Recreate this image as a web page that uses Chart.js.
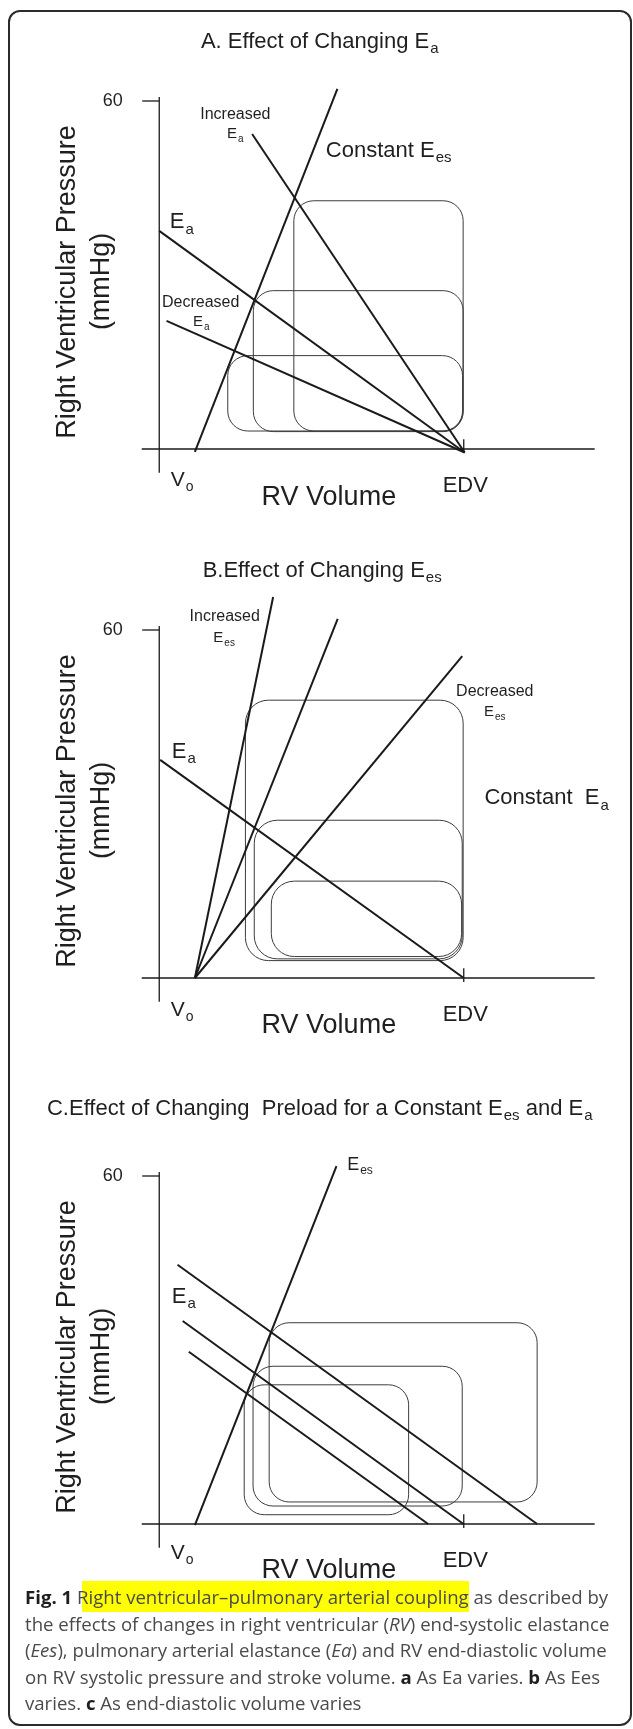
<!DOCTYPE html>
<html>
<head>
<meta charset="utf-8">
<title>RV–PA coupling</title>
<script src="https://cdn.jsdelivr.net/npm/chart.js@4.4.1/dist/chart.umd.min.js"></script>
<style>
  body { margin: 0; background: #fff; width: 633px; height: 1729px; position: relative; overflow: hidden; }
  .frame { position: absolute; left: 8px; top: 10px; width: 620px; height: 1712px;
           border: 2px solid #2b2b2b; border-radius: 12px; }
  canvas.panel { position: absolute; left: 7px; z-index: 1; }
  .caption { position: absolute; left: 25px; top: 1584px; z-index: 2;
             font-family: "Open Sans", sans-serif; font-size: 18.6px; line-height: 26.5px;
             color: #4a4a4a; white-space: nowrap; }
  .caption b { color: #1e1e1e; }
  .hl { background: #ffff00; padding: 3px 0; }
  .hl-edge { background: linear-gradient(to right, transparent 45%, #ffff00 45%); padding: 3px 0; }
</style>
</head>
<body>
<div class="frame"></div>
<canvas id="panel-a" class="panel" width="609" height="522" style="top:14px"></canvas>
<canvas id="panel-b" class="panel" width="609" height="522" style="top:543px"></canvas>
<canvas id="panel-c" class="panel" width="609" height="522" style="top:1089px"></canvas>
<div class="caption">
<b>Fig. 1</b> <span class="hl-edge">R</span><span class="hl">ight ventricular–pulmonary arterial coupling</span> as described by<br>
the effects of changes in right ventricular (<i>RV</i>) end-systolic elastance<br>
(<i>Ees</i>), pulmonary arterial elastance (<i>Ea</i>) and RV end-diastolic volume<br>
on RV systolic pressure and stroke volume. <b>a</b> As Ea varies. <b>b</b> As Ees<br>
varies. <b>c</b> As end-diastolic volume varies
</div>
<script>
// ─── Data (volume units: y-axis = 0, EDV = 100; pressure in mmHg) ─────────────

const X_MIN = -50, X_MAX = 150, Y_MIN = -15, Y_MAX = 75;

// shared axis furniture
const axisX = [[-5.75, 0], [143, 0]];
const axisY = [[0, -4.1], [0, 60.7]];
const tick60 = [[-5.6, 60], [0, 60]];
const tickEdv = [[100, -0.7], [100, 1.7]];

// A. changing Ea
const aEes = [[11.7, -0.5], [58.5, 62.1]];
const aEaIncreased = [[30.5, 54.3], [100.3, -0.6]];
const aEa = [[0, 37.6], [100.3, -0.6]];
const aEaDecreased = [[2.4, 22.1], [100.3, -0.6]];
const aLoops = [[44.2, 99.8, 3.1, 42.8], [30.9, 99.8, 3.0, 27.3], [22.5, 99.6, 3.1, 16.1]]; // left, right, bottom, top

// B. changing Ees
const bEesIncreased = [[11.7, 0], [37.4, 65.7]];
const bEes = [[11.7, 0], [58.6, 61.9]];
const bEesDecreased = [[11.7, 0], [99.5, 55.5]];
const bEa = [[0.3, 37.6], [100, 0]];
const bLoops = [[28.3, 99.8, 3.0, 47.9], [31.2, 99.5, 3.3, 27.2], [36.8, 99.3, 3.7, 16.7]];

// C. changing preload
const cEes = [[11.7, -0.2], [58.2, 61.7]];
const cEaHigh = [[6.0, 44.7], [124.1, 0]];
const cEaMid = [[7.7, 35.0], [99.9, 0]];
const cEaLow = [[9.7, 29.7], [88.3, 0]];
const cLoops = [[36.1, 124.1, 3.8, 34.7], [30.8, 99.5, 3.1, 27.2], [27.9, 81.9, 1.6, 24.0]];

// text placed in data coordinates; _{..} marks a subscript
const commonLabels = [
  { t: "60", x: -15.3, y: 60.2, size: 18 },
  { t: "EDV", x: 100.5, y: -6.1, size: 22 },
  { t: "Right Ventricular Pressure", x: -31.0, y: 28.8, size: 27, rot: true },
  { t: "(mmHg)", x: -19.7, y: 28.9, size: 27, rot: true },
];
const aLabels = [
  { t: "A. Effect of Changing E_{a}", x: 52.7, y: 70.5, size: 22 },
  { t: "Increased", x: 25, y: 57.9, size: 16 },
  { t: "E_{a}", x: 25, y: 54.5, size: 15 },
  { t: "Constant E_{es}", x: 54.7, y: 51.7, size: 22, align: "left" },
  { t: "E_{a}", x: 3.45, y: 39.4, size: 22, align: "left" },
  { t: "Decreased", x: 13.6, y: 25.4, size: 16 },
  { t: "E_{a}", x: 13.8, y: 22.1, size: 15 },
  { t: "V_{o}", x: 7.5, y: -5.0, size: 21 },
  { t: "RV Volume", x: 55.7, y: -7.9, size: 27 },
];
const bLabels = [
  { t: "B.Effect of Changing E_{es}", x: 53.5, y: 70.5, size: 22 },
  { t: "Increased", x: 21.5, y: 62.6, size: 16 },
  { t: "E_{es}", x: 21.3, y: 58.8, size: 15 },
  { t: "Decreased", x: 110.2, y: 49.7, size: 16 },
  { t: "E_{es}", x: 110.2, y: 46.1, size: 15 },
  { t: "E_{a}", x: 4.1, y: 39.3, size: 22, align: "left" },
  { t: "Constant  E_{a}", x: 106.8, y: 31.3, size: 22, align: "left" },
  { t: "V_{o}", x: 7.5, y: -5.2, size: 21 },
  { t: "RV Volume", x: 55.7, y: -7.8, size: 27 },
];
const cLabels = [
  { t: "C.Effect of Changing  Preload for a Constant E_{es} and E_{a}", x: 52.7, y: 71.9, size: 22 },
  { t: "E_{es}", x: 61.7, y: 62.2, size: 18, align: "left" },
  { t: "E_{a}", x: 4.1, y: 39.5, size: 22, align: "left" },
  { t: "V_{o}", x: 7.5, y: -4.8, size: 21 },
  { t: "RV Volume", x: 55.7, y: -7.6, size: 27 },
];

// ─── Plugins ──────────────────────────────────────────────────────────────────

const FONT = '"Liberation Sans", Arial, Helvetica, sans-serif';

function roundRectPath(ctx, x, y, w, h, r) {
  ctx.beginPath();
  ctx.moveTo(x + r, y);
  ctx.arcTo(x + w, y, x + w, y + h, r);
  ctx.arcTo(x + w, y + h, x, y + h, r);
  ctx.arcTo(x, y + h, x, y, r);
  ctx.arcTo(x, y, x + w, y, r);
  ctx.closePath();
}

const loopPlugin = {
  id: "loops",
  beforeDatasetsDraw(chart, args, opts) {
    const { ctx, scales: { x, y } } = chart;
    ctx.save();
    ctx.strokeStyle = "#3c3c3c";
    ctx.lineWidth = 1;
    (opts.loops || []).forEach(([l, r, b, t]) => {
      const x0 = x.getPixelForValue(l), x1 = x.getPixelForValue(r);
      const y0 = y.getPixelForValue(t), y1 = y.getPixelForValue(b);
      roundRectPath(ctx, x0, y0, x1 - x0, y1 - y0, opts.radius || 20);
      ctx.stroke();
    });
    ctx.restore();
  },
};

function splitRich(str) {
  const parts = [];
  const re = /_\{([^}]*)\}/g;
  let last = 0, m;
  while ((m = re.exec(str))) {
    if (m.index > last) parts.push({ s: str.slice(last, m.index), sub: false });
    parts.push({ s: m[1], sub: true });
    last = re.lastIndex;
  }
  if (last < str.length) parts.push({ s: str.slice(last), sub: false });
  return parts;
}

function drawRich(ctx, lbl) {
  const parts = splitRich(lbl.t);
  const subSize = Math.round(lbl.size * 0.66);
  let total = 0;
  parts.forEach((p) => {
    ctx.font = `${p.sub ? subSize : lbl.size}px ${FONT}`;
    p.w = ctx.measureText(p.s).width;
    total += p.w + (p.sub ? 1 : 0);
  });
  let cx = lbl.align === "left" ? 0 : -total / 2;
  const base = lbl.size * 0.36;
  parts.forEach((p) => {
    ctx.font = `${p.sub ? subSize : lbl.size}px ${FONT}`;
    ctx.fillText(p.s, cx + (p.sub ? 1 : 0), base + (p.sub ? lbl.size * 0.24 : 0));
    cx += p.w + (p.sub ? 1 : 0);
  });
}

const textPlugin = {
  id: "labels",
  afterDatasetsDraw(chart, args, opts) {
    const { ctx, scales: { x, y } } = chart;
    ctx.save();
    ctx.fillStyle = "#1f1f1f";
    ctx.textBaseline = "alphabetic";
    ctx.textAlign = "left";
    (opts.items || []).forEach((lbl) => {
      ctx.save();
      ctx.translate(x.getPixelForValue(lbl.x), y.getPixelForValue(lbl.y));
      if (lbl.rot) ctx.rotate(-Math.PI / 2);
      drawRich(ctx, lbl);
      ctx.restore();
    });
    ctx.restore();
  },
};

// ─── Charts ───────────────────────────────────────────────────────────────────

const pts = (arr) => arr.map(([x, y]) => ({ x, y }));

function lineSet(arr, width = 2) {
  return {
    data: pts(arr),
    showLine: true,
    borderColor: "#1a1a1a",
    borderWidth: width,
    pointRadius: 0,
    clip: false,
  };
}

function axisSets() {
  return [axisX, axisY, tick60, tickEdv].map((a) => lineSet(a, 1.3));
}

function renderPanel(id, curves, loops, labels, radius) {
  const canvas = document.getElementById(id);
  return new Chart(canvas, {
    type: "scatter",
    data: { datasets: [...axisSets(), ...curves.map((c) => lineSet(c, 2))] },
    options: {
      responsive: false,
      animation: false,
      events: [],
      layout: { padding: 0 },
      plugins: {
        legend: { display: false },
        tooltip: { enabled: false },
        loops: { loops, radius },
        labels: { items: [...commonLabels, ...labels] },
      },
      scales: {
        x: { type: "linear", min: X_MIN, max: X_MAX, display: false },
        y: { type: "linear", min: Y_MIN, max: Y_MAX, display: false },
      },
    },
    plugins: [loopPlugin, textPlugin],
  });
}

renderPanel("panel-a", [aEes, aEaIncreased, aEa, aEaDecreased], aLoops, aLabels, 20);
renderPanel("panel-b", [bEesIncreased, bEes, bEesDecreased, bEa], bLoops, bLabels, 23);
renderPanel("panel-c", [cEes, cEaHigh, cEaMid, cEaLow], cLoops, cLabels, 20);
</script>
</body>
</html>
